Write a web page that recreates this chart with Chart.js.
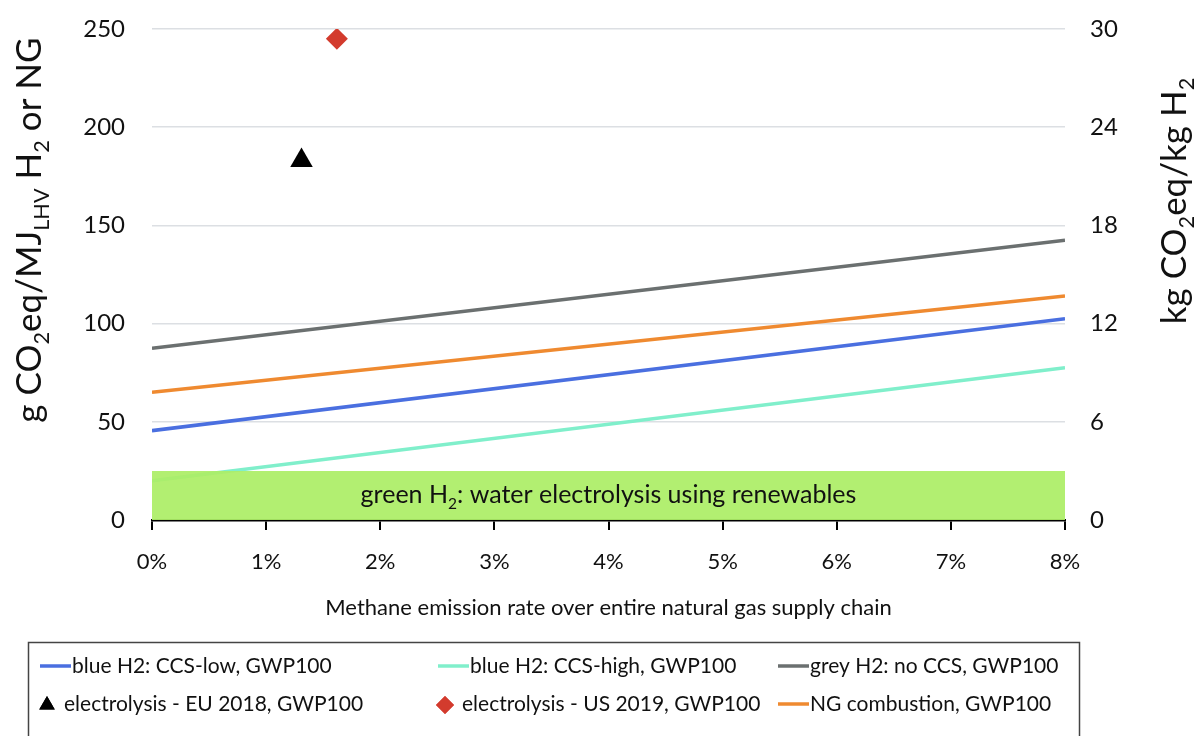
<!DOCTYPE html>
<html>
<head>
<meta charset="utf-8">
<script src="https://cdn.jsdelivr.net/npm/chart.js@4/dist/chart.umd.min.js"></script>
<style>
  html, body { margin: 0; padding: 0; background: #fff; }
  #wrap { width: 1203px; height: 736px; position: relative; }
</style>
</head>
<body>
<div id="wrap"><canvas id="c"></canvas></div>
<script>
const FONT = 'Lato, "Open Sans", sans-serif';

// Methane emission rate (% of NG supply chain) at the ends of each line
const emissionRate = [0, 8];
// g CO2eq per MJ(LHV) H2 or NG
const blueLow = [45.5, 102.5];
const blueHigh = [20, 77.5];
const greyNoCCS = [87.5, 142.5];
const ngCombustion = [65, 114];
// single electrolysis points: [emission rate %, g CO2eq/MJ]
const electrolysisEU = [1.31, 183];
const electrolysisUS = [1.62, 245];
// green H2 band upper bound
const greenBandTop = [25, 25];

const xTicks = [0, 1, 2, 3, 4, 5, 6, 7, 8];
const leftTicks = [0, 50, 100, 150, 200, 250];
const rightTicks = [0, 6, 12, 18, 24, 30];

const lineLabels = [
  'blue H2: CCS-low, GWP100',
  'blue H2: CCS-high, GWP100',
  'grey H2: no CCS, GWP100',
  'electrolysis - EU 2018, GWP100',
  'electrolysis - US 2019, GWP100',
  'NG combustion, GWP100'
];

const toXY = arr => arr.map((v, i) => ({ x: emissionRate[i], y: v }));

function lineDs(label, values, color) {
  return {
    label, data: toXY(values), borderColor: color, backgroundColor: color,
    borderWidth: 3.5, pointRadius: 0, showLine: true, fill: false, order: 1
  };
}
function pointDs(label, pt, color, style, r) {
  return {
    label, data: [{ x: pt[0], y: pt[1] }], showLine: false,
    borderColor: color, backgroundColor: color, pointStyle: style,
    pointRadius: r, borderWidth: 0, order: 0
  };
}

const datasets = [
  lineDs(lineLabels[0], blueLow, '#4a6fe0'),
  lineDs(lineLabels[1], blueHigh, '#80efcb'),
  lineDs(lineLabels[2], greyNoCCS, '#6b7070'),
  pointDs(lineLabels[3], electrolysisEU, '#000000', 'triangle', 13),
  pointDs(lineLabels[4], electrolysisUS, '#d33b2d', 'rectRot', 11),
  lineDs(lineLabels[5], ngCombustion, '#ef8a30'),
  {
    label: 'green band', data: toXY(greenBandTop), borderWidth: 0,
    pointRadius: 0, fill: 'origin', backgroundColor: 'rgba(172,238,102,0.93)',
    borderColor: 'rgba(0,0,0,0)', order: 0
  }
];

// draw text made of runs, some of them subscript
function drawRuns(ctx, runs, x, y, size, align) {
  let total = 0;
  const parts = runs.map(r => {
    const s = r.sub ? size * 0.62 : size;
    ctx.font = `${s}px ${FONT}`;
    const w = ctx.measureText(r.t).width;
    total += w;
    return { r, s, w };
  });
  let cx = align === 'center' ? x - total / 2 : x;
  ctx.textAlign = 'left';
  ctx.textBaseline = 'alphabetic';
  for (const p of parts) {
    ctx.font = `${p.s}px ${FONT}`;
    ctx.fillText(p.r.t, cx, y + (p.r.sub ? size * 0.22 : 0));
    cx += p.w;
  }
}

// vertical axes: keep the plot top fixed regardless of tick label padding
function fixVertical(width) {
  return s => { s.width = width; s.paddingTop = 0; s.paddingBottom = 0; };
}

const decorations = {
  id: 'decorations',
  afterDatasetsDraw(chart) {
    const { ctx, chartArea, scales } = chart;
    ctx.save();
    ctx.fillStyle = '#111';
    const midY = scales.y.getPixelForValue(greenBandTop[0] / 2);
    drawRuns(ctx, [{ t: 'green H' }, { t: '2', sub: true }, { t: ': water electrolysis using renewables' }],
      (chartArea.left + chartArea.right) / 2, midY + 8, 25, 'center');
    ctx.restore();
  },
  afterDraw(chart) {
    const { ctx, chartArea } = chart;
    ctx.save();
    ctx.fillStyle = '#111';

    // left axis title
    ctx.save();
    ctx.translate(30, 230);
    ctx.rotate(-Math.PI / 2);
    drawRuns(ctx, [{ t: 'g CO' }, { t: '2', sub: true }, { t: 'eq/MJ' }, { t: 'LHV', sub: true },
      { t: ' H' }, { t: '2', sub: true }, { t: ' or NG' }], 0, 11, 35, 'center');
    ctx.restore();

    // right axis title
    ctx.save();
    ctx.translate(1175, 201);
    ctx.rotate(-Math.PI / 2);
    drawRuns(ctx, [{ t: 'kg CO' }, { t: '2', sub: true }, { t: 'eq/kg H' }, { t: '2', sub: true }],
      0, 11, 35, 'center');
    ctx.restore();

    // x axis title
    drawRuns(ctx, [{ t: 'Methane emission rate over entire natural gas supply chain' }],
      (chartArea.left + chartArea.right) / 2, 615, 22, 'center');

    // boxed legend, three columns by two rows
    ctx.strokeStyle = '#444';
    ctx.lineWidth = 1.5;
    ctx.strokeRect(28.5, 642.5, 1051, 140);
    const cols = [40, 438, 778];
    const rows = [666, 704];
    for (let i = 0; i < 6; i++) {
      const ds = chart.data.datasets[i];
      const x0 = cols[i % 3];
      const yc = rows[Math.floor(i / 3)];
      let tx;
      if (ds.showLine) {
        ctx.strokeStyle = ds.borderColor;
        ctx.lineWidth = 3.5;
        ctx.beginPath();
        ctx.moveTo(x0, yc);
        ctx.lineTo(x0 + 31, yc);
        ctx.stroke();
        tx = x0 + 32;
      } else {
        ctx.fillStyle = ds.backgroundColor;
        Chart.helpers.drawPoint(ctx, { pointStyle: ds.pointStyle, radius: 9, borderWidth: 0 }, x0 + 7, yc + 1);
        ctx.fill();
        tx = x0 + 24;
      }
      ctx.fillStyle = '#111';
      drawRuns(ctx, [{ t: ds.label }], tx, yc + 7, 21, 'left');
    }
    ctx.restore();
  }
};

new Chart(document.getElementById('c'), {
  type: 'line',
  data: { datasets },
  options: {
    responsive: true,
    maintainAspectRatio: false,
    animation: false,
    layout: { padding: { top: 29, left: 0, right: 0, bottom: 0 } },
    plugins: { legend: { display: false }, tooltip: { enabled: false } },
    scales: {
      x: {
        type: 'linear', min: 0, max: 8,
        afterBuildTicks: s => { s.ticks = xTicks.map(v => ({ value: v })); },
        afterFit: s => { s.height = 216; },
        grid: { drawOnChartArea: false, drawTicks: true, tickLength: 10, color: '#000', lineWidth: 2 },
        border: { display: true, color: '#000', width: 2.5 },
        ticks: { padding: 19, color: '#111', font: { family: FONT, size: 22 }, callback: v => v + '%' }
      },
      y: {
        type: 'linear', position: 'left', min: 0, max: 250,
        afterBuildTicks: s => { s.ticks = leftTicks.map(v => ({ value: v })); },
        afterFit: fixVertical(152),
        grid: { color: '#dcdfe3', lineWidth: 1.5, drawTicks: false },
        border: { display: false },
        ticks: { padding: 27, color: '#111', font: { family: FONT, size: 24 } }
      },
      y2: {
        type: 'linear', position: 'right', min: 0, max: 30,
        afterBuildTicks: s => { s.ticks = rightTicks.map(v => ({ value: v })); },
        afterFit: fixVertical(138),
        grid: { display: false, drawTicks: false },
        border: { display: false },
        ticks: { padding: 25, color: '#111', font: { family: FONT, size: 24 } }
      }
    }
  },
  plugins: [decorations]
});
</script>
</body>
</html>
